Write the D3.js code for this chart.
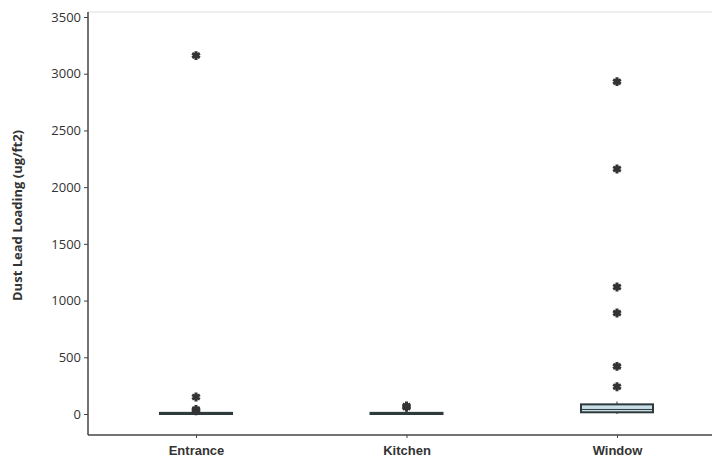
<!DOCTYPE html>
<html>
<head>
<meta charset="utf-8">
<script src="https://cdn.jsdelivr.net/npm/d3@7"></script>
<style>
  body { margin: 0; background: #fff; }
  .tick text { fill: #333; }
</style>
</head>
<body>
<script>
/* Data */
var categories = ["Entrance", "Kitchen", "Window"],
    q1 = [0, 0, 15],
    medians = [4, 4, 40],
    q3 = [10, 10, 85],
    whiskerLow = [0, 0, 0],
    whiskerHigh = [20, 25, 110],
    outliers = [
        [3160, 150, 40, 28],
        [70, 60],
        [2930, 2160, 1120, 890, 420, 240]
    ],
    yTicks = [0, 500, 1000, 1500, 2000, 2500, 3000, 3500];

/* Display setup */
var width = 712, height = 468,
    margin = {top: 12, left: 88, bottom: 33},
    svg = d3.select("body").append("svg")
        .attr("width", width)
        .attr("height", height);

var x = d3.scalePoint().domain(categories).range([196, 617]),
    y = d3.scaleLinear().domain([0, 3500]).range([414, 17]),
    boxW = 72,
    axisY = height - margin.bottom - 0;

// faint top frame
svg.append("line")
    .attr("x1", margin.left).attr("x2", width)
    .attr("y1", margin.top).attr("y2", margin.top)
    .style("stroke", "#ddd").style("stroke-width", 1);

// y axis
var yAxis = svg.append("g")
    .attr("transform", "translate(" + margin.left + ",0)")
    .call(d3.axisLeft(y).tickValues(yTicks).tickSize(4).tickSizeOuter(0).tickFormat(d3.format("d")));
yAxis.select(".domain").remove();
yAxis.selectAll(".tick line").style("stroke", "#444");
yAxis.selectAll("text")
    .style("font-family", "'Liberation Sans Narrow', 'Open Sans', sans-serif")
    .style("font-size", "13px");

svg.append("line")
    .attr("x1", margin.left).attr("x2", margin.left)
    .attr("y1", margin.top).attr("y2", axisY)
    .style("stroke", "#444").style("stroke-width", 1.5);

// x axis
var xAxis = svg.append("g")
    .attr("transform", "translate(0," + axisY + ")")
    .call(d3.axisBottom(x).tickSize(3).tickSizeOuter(0).tickPadding(8));
xAxis.select(".domain").remove();
xAxis.selectAll(".tick line").style("stroke", "#444");
xAxis.selectAll("text")
    .style("font-family", "'Liberation Sans', Arial, sans-serif")
    .style("font-weight", "bold")
    .style("font-size", "13px")
    .style("fill", "#333");

svg.append("line")
    .attr("x1", margin.left).attr("x2", width)
    .attr("y1", axisY).attr("y2", axisY)
    .style("stroke", "#444").style("stroke-width", 1.5);

// axis title
svg.append("text")
    .attr("transform", "translate(22," + y(1750) + ") rotate(-90)")
    .attr("text-anchor", "middle")
    .style("font-family", "'Liberation Sans Narrow', 'Open Sans', sans-serif")
    .style("font-weight", "bold")
    .style("font-size", "13px")
    .style("fill", "#333")
    .text("Dust Lead Loading (ug/ft2)");

/* Boxes */
var boxes = svg.selectAll("g.box")
    .data(categories)
    .enter().append("g")
        .attr("class", "box");

boxes.append("line")
    .attr("x1", function(d) { return x(d); })
    .attr("x2", function(d) { return x(d); })
    .attr("y1", function(d, i) { return y(whiskerLow[i]); })
    .attr("y2", function(d, i) { return y(whiskerHigh[i]); })
    .style("stroke", "#333").style("stroke-width", 1);

boxes.append("rect")
    .attr("x", function(d) { return x(d) - boxW / 2; })
    .attr("y", function(d, i) { return y(q3[i]); })
    .attr("width", boxW)
    .attr("height", function(d, i) { return Math.max(y(q1[i]) - y(q3[i]), 1); })
    .style("fill", "#c9dfe8")
    .style("stroke", "#2f3a3c")
    .style("stroke-width", 2);

boxes.append("line")
    .attr("x1", function(d) { return x(d) - boxW / 2; })
    .attr("x2", function(d) { return x(d) + boxW / 2; })
    .attr("y1", function(d, i) { return y(medians[i]); })
    .attr("y2", function(d, i) { return y(medians[i]); })
    .style("stroke", "#2f3a3c").style("stroke-width", 1);

/* Outliers */
var pts = [];
categories.forEach(function(c, i) {
    outliers[i].forEach(function(v) { pts.push({cat: c, value: v}); });
});

var star = d3.symbol().type(d3.symbolAsterisk).size(55);
svg.selectAll("path.outlier")
    .data(pts)
    .enter().append("path")
        .attr("class", "outlier")
        .attr("transform", function(d) { return "translate(" + x(d.cat) + "," + y(d.value) + ")"; })
        .attr("d", star)
        .style("fill", "none")
        .style("stroke", "#333")
        .style("stroke-width", 3);
</script>
</body>
</html>
